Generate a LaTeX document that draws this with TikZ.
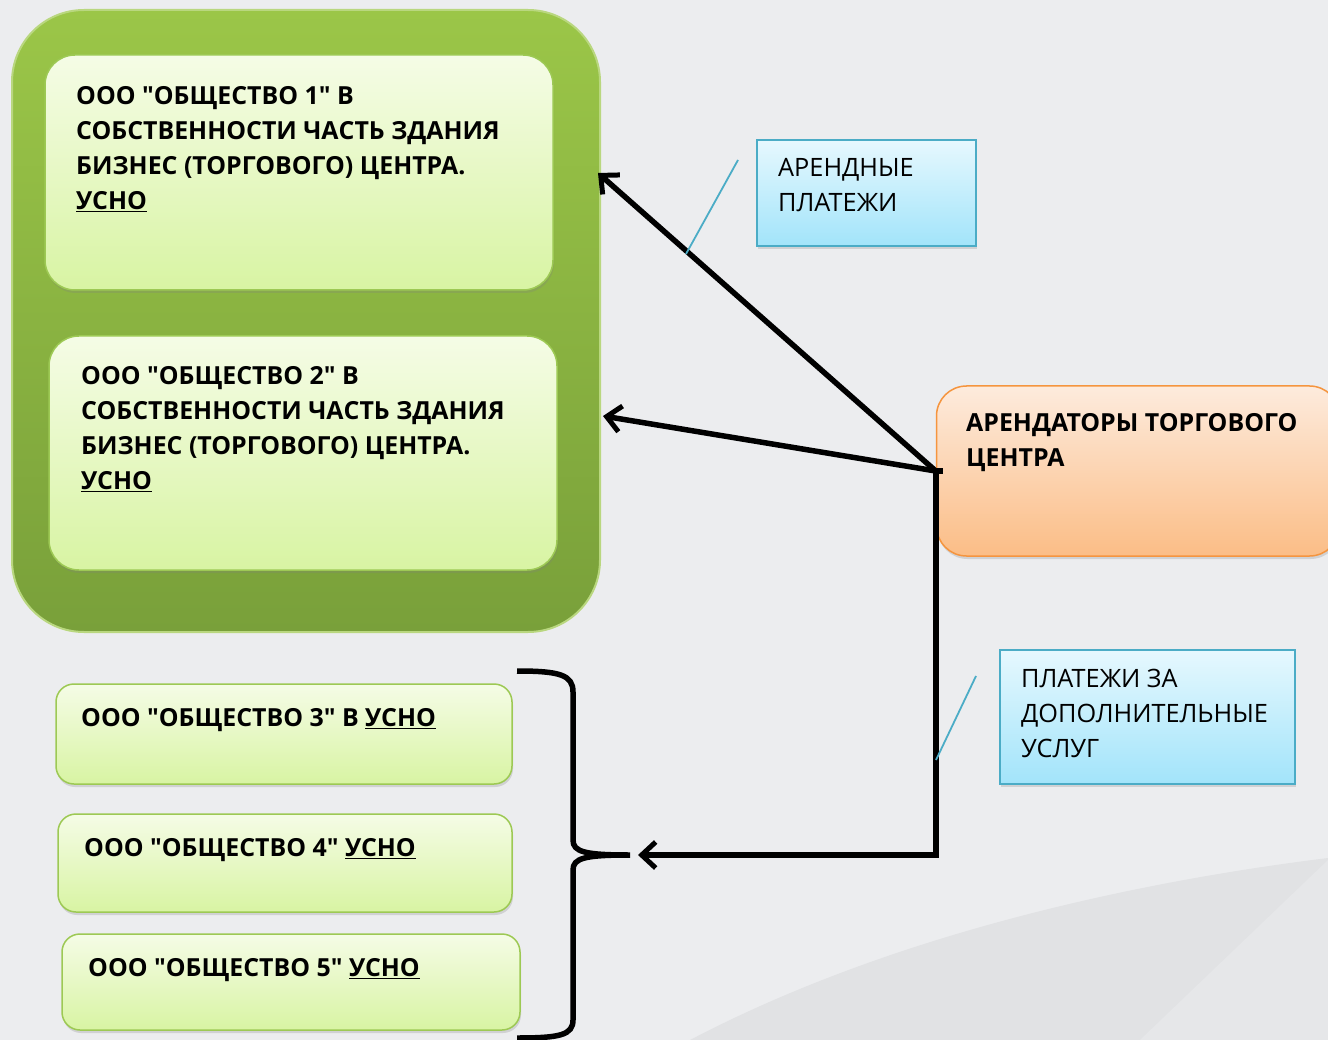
\documentclass[tikz,border=0pt]{standalone}
\usepackage{fontspec}
\setmainfont{Open Sans}
\usetikzlibrary{arrows.meta,shadows,positioning}

\definecolor{bggray}{HTML}{ECEDEF}
\definecolor{swoosh}{HTML}{E1E2E4}
\definecolor{swooshlight}{HTML}{E6E7E9}
\definecolor{grouptop}{HTML}{9BC648}
\definecolor{groupbot}{HTML}{79A03A}
\definecolor{firmtop}{HTML}{F5FCE6}
\definecolor{firmbot}{HTML}{D8F4A3}
\definecolor{firmedge}{HTML}{9DC954}
\definecolor{renttop}{HTML}{FDEBDD}
\definecolor{rentbot}{HTML}{FBBD86}
\definecolor{rentedge}{HTML}{F5953F}
\definecolor{paytop}{HTML}{E6F8FE}
\definecolor{paybot}{HTML}{A2E4FA}
\definecolor{payedge}{HTML}{4BACC6}

\newcommand{\qt}{\textquotedbl}

\tikzset{
    group/.style={rounded corners=72pt, top color=grouptop, bottom color=groupbot,
        draw=grouptop!70!white, line width=2pt},
    firm/.style={draw=firmedge, line width=1.5pt, top color=firmtop, bottom color=firmbot,
        drop shadow={shadow xshift=1pt, shadow yshift=-3pt, opacity=0.25}},
    tenant/.style={draw=rentedge, line width=1.5pt, rounded corners=30pt,
        top color=renttop, bottom color=rentbot,
        drop shadow={shadow xshift=1pt, shadow yshift=-3pt, opacity=0.25}},
    paybox/.style={draw=payedge, line width=1.5pt, top color=paytop, bottom color=paybot,
        drop shadow={shadow xshift=1pt, shadow yshift=-3pt, opacity=0.25}},
    boldtext/.style={inner sep=0pt, align=left, font=\fontsize{24.9}{35}\selectfont\bfseries},
    plaintext/.style={inner sep=0pt, align=left, font=\fontsize{25.3}{35}\selectfont},
    flow/.style={line width=5.5pt, line join=miter, -{Straight Barb[length=14pt, width=26pt, line width=5pt]}},
    bracket/.style={line width=5.5pt},
    tag/.style={draw=payedge, line width=1.8pt}
}

\begin{document}
\begin{tikzpicture}[x=1pt, y=-1pt]
    % Background
    \fill[bggray] (0, 0) rectangle (1328, 1040);
    \useasboundingbox (0, 0) rectangle (1328, 1040);
    \fill[swoosh] (690, 1040) .. controls (900, 930) and (1150, 880) .. (1328, 858) -- (1328, 1040) -- cycle;
    \fill[swooshlight] (1328, 860) -- (1140, 1040) -- (1328, 1040) -- cycle;

    % Owners of the building
    \node[group, minimum width=588pt, minimum height=622pt] (owners) at (306, 321) {};
    \node[firm, rounded corners=30pt, minimum width=508pt, minimum height=235pt] (soc1) at (299, 172.5) {};
    \node[firm, rounded corners=30pt, minimum width=508pt, minimum height=234pt] (soc2) at (303, 453) {};
    \node[boldtext, anchor=north west] (soc1txt) at (76, 86)
        {ООО \qt ОБЩЕСТВО 1\qt{} В\\СОБСТВЕННОСТИ ЧАСТЬ ЗДАНИЯ\\БИЗНЕС (ТОРГОВОГО) ЦЕНТРА.\\\underline{УСНО}};
    \node[boldtext, anchor=north west] (soc2txt) at (81, 366)
        {ООО \qt ОБЩЕСТВО 2\qt{} В\\СОБСТВЕННОСТИ ЧАСТЬ ЗДАНИЯ\\БИЗНЕС (ТОРГОВОГО) ЦЕНТРА.\\\underline{УСНО}};

    % Other companies
    \node[firm, rounded corners=18pt, minimum width=456pt, minimum height=100pt] (soc3) at (284, 734) {};
    \node[firm, rounded corners=18pt, minimum width=454pt, minimum height=98pt] (soc4) at (285, 863) {};
    \node[firm, rounded corners=18pt, minimum width=458pt, minimum height=96pt] (soc5) at (291, 982) {};
    \node[boldtext, anchor=north west] (soc3txt) at (81, 708) {ООО \qt ОБЩЕСТВО 3\qt{} В \underline{УСНО}};
    \node[boldtext, anchor=north west] (soc4txt) at (84, 838) {ООО \qt ОБЩЕСТВО 4\qt{} \underline{УСНО}};
    \node[boldtext, anchor=north west] (soc5txt) at (88, 958) {ООО \qt ОБЩЕСТВО 5\qt{} \underline{УСНО}};

    % Tenants
    \node[tenant, minimum width=403pt, minimum height=170pt] (tenants) at (1138, 471) {};
    \node[boldtext, anchor=north west] (tenantstxt) at (966, 413) {АРЕНДАТОРЫ ТОРГОВОГО\\ЦЕНТРА};

    % Payments
    \node[paybox, minimum width=219pt, minimum height=106pt] (pay1) at (866.5, 193) {};
    \node[paybox, minimum width=295pt, minimum height=134pt] (pay2) at (1147.5, 717) {};
    \node[plaintext, anchor=north west] (pay1txt) at (778, 158) {АРЕНДНЫЕ\\ПЛАТЕЖИ};
    \node[plaintext, anchor=north west] (pay2txt) at (1021, 669) {ПЛАТЕЖИ ЗА\\ДОПОЛНИТЕЛЬНЫЕ\\УСЛУГ};

    % Arrows
    \coordinate (in1) at (598, 173);
    \coordinate (in2) at (603, 416);
    \coordinate (brtip) at (630, 855);
    \coordinate (brin) at (638, 855);
    \draw[flow] (tenants.west) -- (in1);
    \draw[flow] (tenants.west) -- (in2);
    \draw[flow] ([xshift=7pt]tenants.west) -- (tenants.west) -- (tenants.west |- brin) -- (brin);

    %% brace
    \draw[bracket] (517, 671) .. controls (560, 671) and (573, 675) .. (573, 692) -- (573, 840)
        .. controls (573, 852) and (585, 855) .. (brtip)
        .. controls (585, 855) and (573, 858) .. (573, 870) -- (573, 1020)
        .. controls (573, 1035) and (560, 1038) .. (517, 1038);

    %% callout ticks
    \coordinate (tag1a) at (738, 160);
    \coordinate (tag1b) at (686, 254);
    \coordinate (tag2a) at (976, 676);
    \coordinate (tag2b) at (936, 760);
    \draw[tag] (tag1a) -- (tag1b);
    \draw[tag] (tag2a) -- (tag2b);
\end{tikzpicture}
\end{document}
